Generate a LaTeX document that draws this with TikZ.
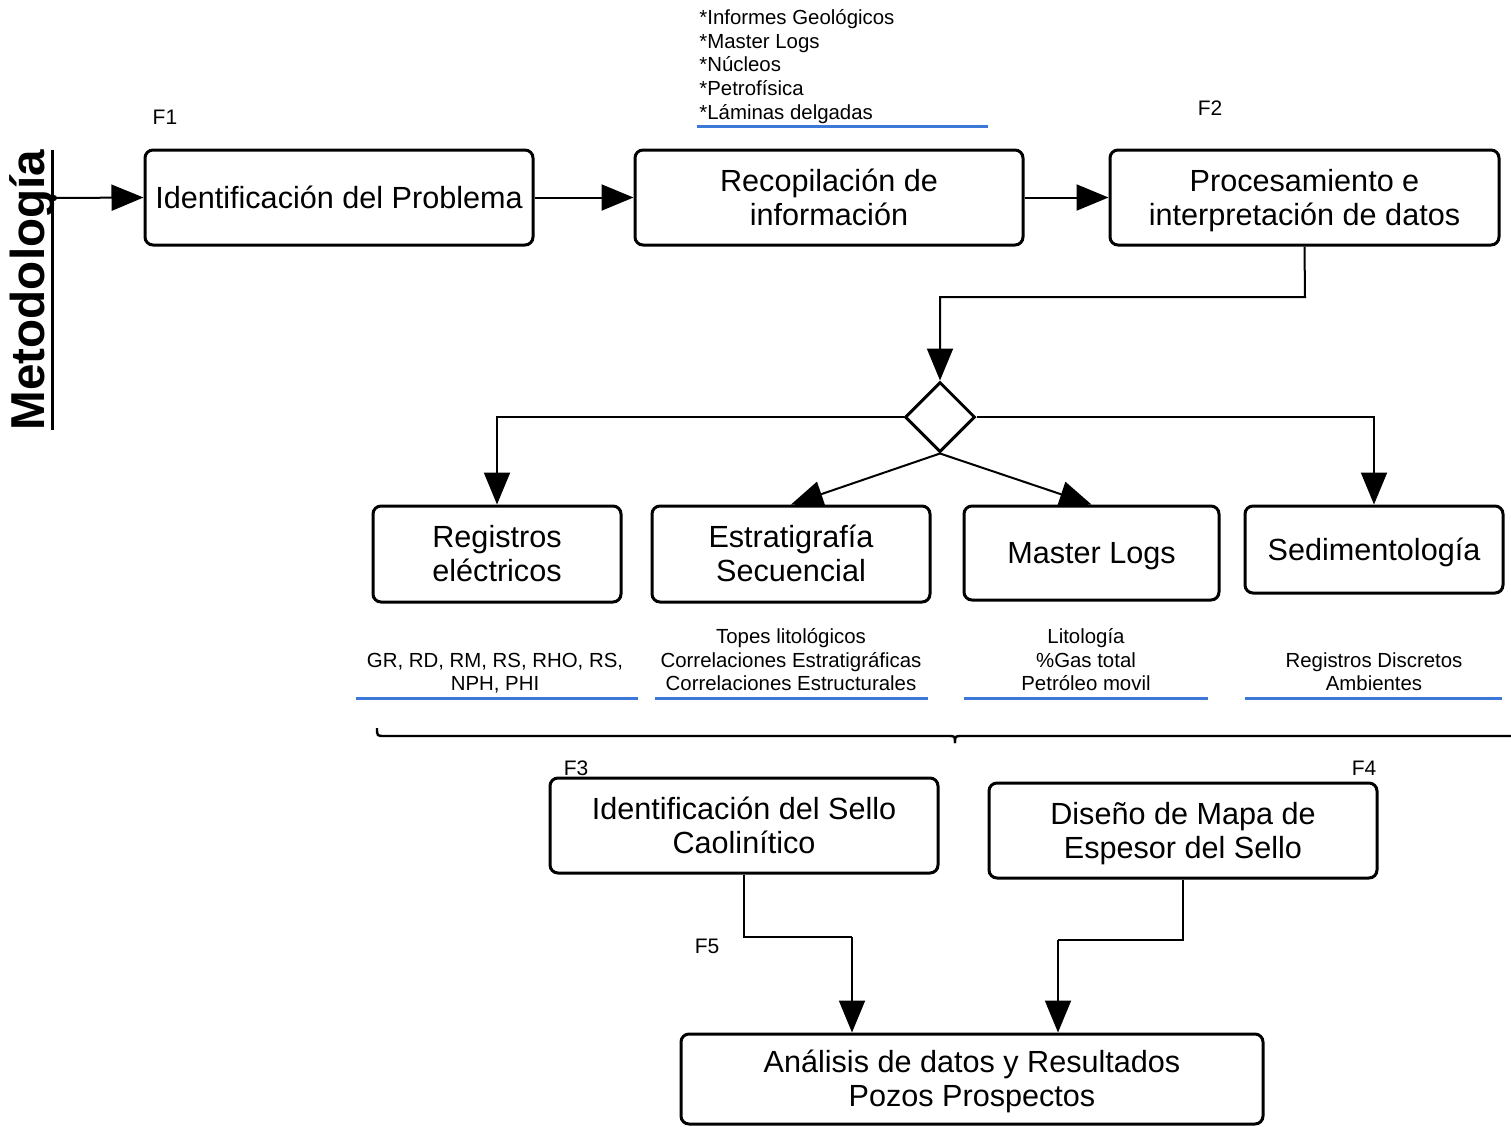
\documentclass[tikz,border=0pt]{standalone}
\usepackage{fontspec}
\setmainfont{Liberation Sans}
\usetikzlibrary{arrows.meta,shapes.geometric}
\definecolor{ublue}{RGB}{60,120,216}
\tikzset{
  x=0.5pt,y=-0.5pt,
  box/.style={draw,line width=1.5pt,rounded corners=4pt,inner sep=0pt,align=center,
    font=\fontsize{15.3}{17}\selectfont, text height=14.5pt, text depth=4pt},
  twobox/.style={box, text height=31.5pt},
  small/.style={inner sep=0pt,align=center,font=\fontsize{10.2}{11.75}\selectfont},
  flab/.style={inner sep=0pt,font=\fontsize{10.5}{12}\selectfont},
  arr/.style={line width=1pt,-{Triangle[length=16pt,width=13pt]}},
  conn/.style={line width=1pt},
  uline/.style={ublue,line width=1.5pt},
}
\begin{document}
\begin{tikzpicture}
\useasboundingbox (0,0) rectangle (1511,1126);
% title
\node[inner sep=0pt,rotate=90,font=\fontsize{23.8}{26}\bfseries\selectfont] (met) at (32,290) {Metodología};
\draw[line width=1.5pt] (52,150) -- (52,430);
\coordinate (metout) at (54,198);
\fill (metout) circle (3);
% top row
\node[box,minimum width=194pt,minimum height=47.5pt] (b1) at (339,197.5) {Identificación del Problema};
\node[twobox,minimum width=194pt,minimum height=47.5pt] (b2) at (829,197.5) {Recopilación de\\información};
\node[twobox,minimum width=194.5pt,minimum height=47.5pt] (b3) at (1304.5,197.5) {Procesamiento e\\interpretación de datos};
\node[flab] (f1) at (165,117) {F1};
\node[flab] (f2) at (1210,108) {F2};
\node[small,align=left,anchor=west,font=\fontsize{10.2}{11.9}\selectfont] (info) at (699,66.5) {*Informes Geológicos\\*Master Logs\\*Núcleos\\*Petrofísica\\*Láminas delgadas};
\draw[uline] (697,126) -- (988,126);
\draw[arr] (metout) -- (b1.west);
\draw[arr] (b1.east) -- (b2.west);
\draw[arr] (b2.east) -- (b3.west);
% diamond
\node[draw,diamond,line width=1.5pt,minimum width=35pt,minimum height=35pt,inner sep=0pt] (dia) at (940,417) {};
\coordinate (j0) at (1305,297);
\draw[arr] (b3.south) -- (j0) -| (dia.north);
% second row
\node[twobox,minimum width=124pt,minimum height=48pt] (reg) at (497,554) {Registros\\eléctricos};
\node[twobox,minimum width=139pt,minimum height=48pt] (est) at (791,554) {Estratigrafía\\Secuencial};
\node[box,minimum width=127.5pt,minimum height=47pt] (ml) at (1091.5,553) {Master Logs};
\node[box,minimum width=129pt,minimum height=43.5pt] (sed) at (1374,549.5) {Sedimentología};
\draw[arr] (dia.west) -| (reg.north);
\draw[arr] (dia.east) -| (sed.north);
\draw[arr] (dia.south) -- (est.north);
\draw[arr] (dia.south) -- (ml.north);
% descriptions
\node[small] (dreg) at (495,673) {GR, RD, RM, RS, RHO, RS,\\NPH, PHI};
\node[small] (dest) at (791,660) {Topes litológicos\\Correlaciones Estratigráficas\\Correlaciones Estructurales};
\node[small] (dml) at (1086,660) {Litología\\\%Gas total\\Petróleo movil};
\node[small] (dsed) at (1374,671.5) {Registros Discretos\\Ambientes};
\draw[uline] (356,698) -- (638,698);
\draw[uline] (655,698) -- (928,698);
\draw[uline] (964,698) -- (1208,698);
\draw[uline] (1245,698) -- (1502,698);
% brace
\draw[line width=1.2pt] (377,728) .. controls (377,736) .. (385,736) -- (948,736)
  .. controls (955,736) .. (955,743);
\draw[line width=1.2pt] (955,743) .. controls (955,736) .. (962,736) -- (1511,736);
% third row
\node[twobox,minimum width=194pt,minimum height=47.5pt] (sello) at (744,825.5) {Identificación del Sello\\Caolinítico};
\node[twobox,minimum width=194pt,minimum height=47.5pt] (dis) at (1183,830.5) {Diseño de Mapa de\\Espesor del Sello};
\node[flab] (f3) at (576,768) {F3};
\node[flab] (f4) at (1364,768) {F4};
\node[flab] (f5) at (707,946) {F5};
% final
\node[twobox,minimum width=291pt,minimum height=45pt] (ana) at (972,1079) {Análisis de datos y Resultados\\Pozos Prospectos};
\coordinate (j1) at (852,937);
\coordinate (j2) at (1058,940);
\draw[conn] (sello.south) |- (j1);
\draw[arr] (j1) -- (j1 |- ana.north);
\draw[conn] (dis.south) |- (j2);
\draw[arr] (j2) -- (j2 |- ana.north);
\end{tikzpicture}
\end{document}
